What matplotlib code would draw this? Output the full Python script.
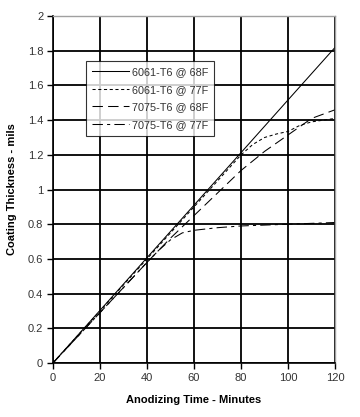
import matplotlib.pyplot as plt

plt.rcParams['font.family'] = ['Liberation Sans', 'DejaVu Sans']

# data
t_6061_68 = [0, 20, 40, 60, 80, 100, 120]
c_6061_68 = [0, 0.303, 0.607, 0.91, 1.213, 1.517, 1.82]

t_6061_77 = [0, 20, 40, 60, 80, 85, 90, 95, 100, 105, 110, 120]
c_6061_77 = [0, 0.30, 0.60, 0.90, 1.20, 1.26, 1.30, 1.32, 1.335, 1.37, 1.39, 1.41]

t_7075_68 = [0, 10, 20, 30, 40, 50, 60, 70, 80, 90, 100, 110, 120]
c_7075_68 = [0, 0.145, 0.29, 0.435, 0.58, 0.72, 0.85, 0.98, 1.11, 1.22, 1.315, 1.41, 1.46]

t_7075_77 = [0, 10, 20, 30, 40, 45, 50, 55, 60, 70, 80, 90, 100, 110, 120]
c_7075_77 = [0, 0.145, 0.29, 0.435, 0.58, 0.65, 0.71, 0.75, 0.765, 0.78, 0.79, 0.795, 0.80, 0.805, 0.81]

labels = ['6061-T6 @ 68F', '6061-T6 @ 77F', '7075-T6 @ 68F', '7075-T6 @ 77F']
x_ticks = [0, 20, 40, 60, 80, 100, 120]
y_ticks = [0, 0.2, 0.4, 0.6, 0.8, 1, 1.2, 1.4, 1.6, 1.8, 2]
y_tick_labels = ['0', '0.2', '0.4', '0.6', '0.8', '1', '1.2', '1.4', '1.6', '1.8', '2']

fig = plt.figure(figsize=(3.6, 4.17), dpi=100)
ax = fig.add_axes([0.147, 0.1295, 0.784, 0.832])

ax.plot(t_6061_68, c_6061_68, color='black', lw=0.75, linestyle='-', label=labels[0])
ax.plot(t_6061_77, c_6061_77, color='black', lw=0.75, linestyle=(0, (3, 2.5)), label=labels[1])
ax.plot(t_7075_68, c_7075_68, color='black', lw=0.75, linestyle=(0, (10, 5)), label=labels[2])
ax.plot(t_7075_77, c_7075_77, color='black', lw=0.75, linestyle=(0, (10, 4, 3, 4)), label=labels[3])

ax.set_xlim(0, 120)
ax.set_ylim(0, 2)
ax.set_xticks(x_ticks)
ax.set_yticks(y_ticks)
ax.set_yticklabels(y_tick_labels)
ax.grid(True, color='black', lw=1.3)
ax.set_axisbelow(True)

for side in ['top', 'right']:
    ax.spines[side].set_color('#a0a0a0')
    ax.spines[side].set_linewidth(1.0)
for side in ['left', 'bottom']:
    ax.spines[side].set_color('black')
    ax.spines[side].set_linewidth(1.2)

ax.tick_params(direction='out', length=4, width=1, color='black',
               labelsize=8, labelcolor='#333333', pad=3)

ax.set_xlabel('Anodizing Time - Minutes', fontsize=8, fontweight='bold', labelpad=9)
ax.set_ylabel('Coating Thickness - mils', fontsize=8, fontweight='bold', labelpad=8)

leg = ax.legend(loc='upper left', bbox_to_anchor=(0.117, 0.87), fontsize=7.8,
                handlelength=3.4, frameon=True, fancybox=False, borderpad=0.55,
                labelspacing=0.7, handletextpad=0.3, borderaxespad=0)
leg.get_frame().set_edgecolor('black')
leg.get_frame().set_linewidth(0.8)
for txt in leg.get_texts():
    txt.set_color('#333333')

plt.savefig('out.png', dpi=100)
plt.close()
